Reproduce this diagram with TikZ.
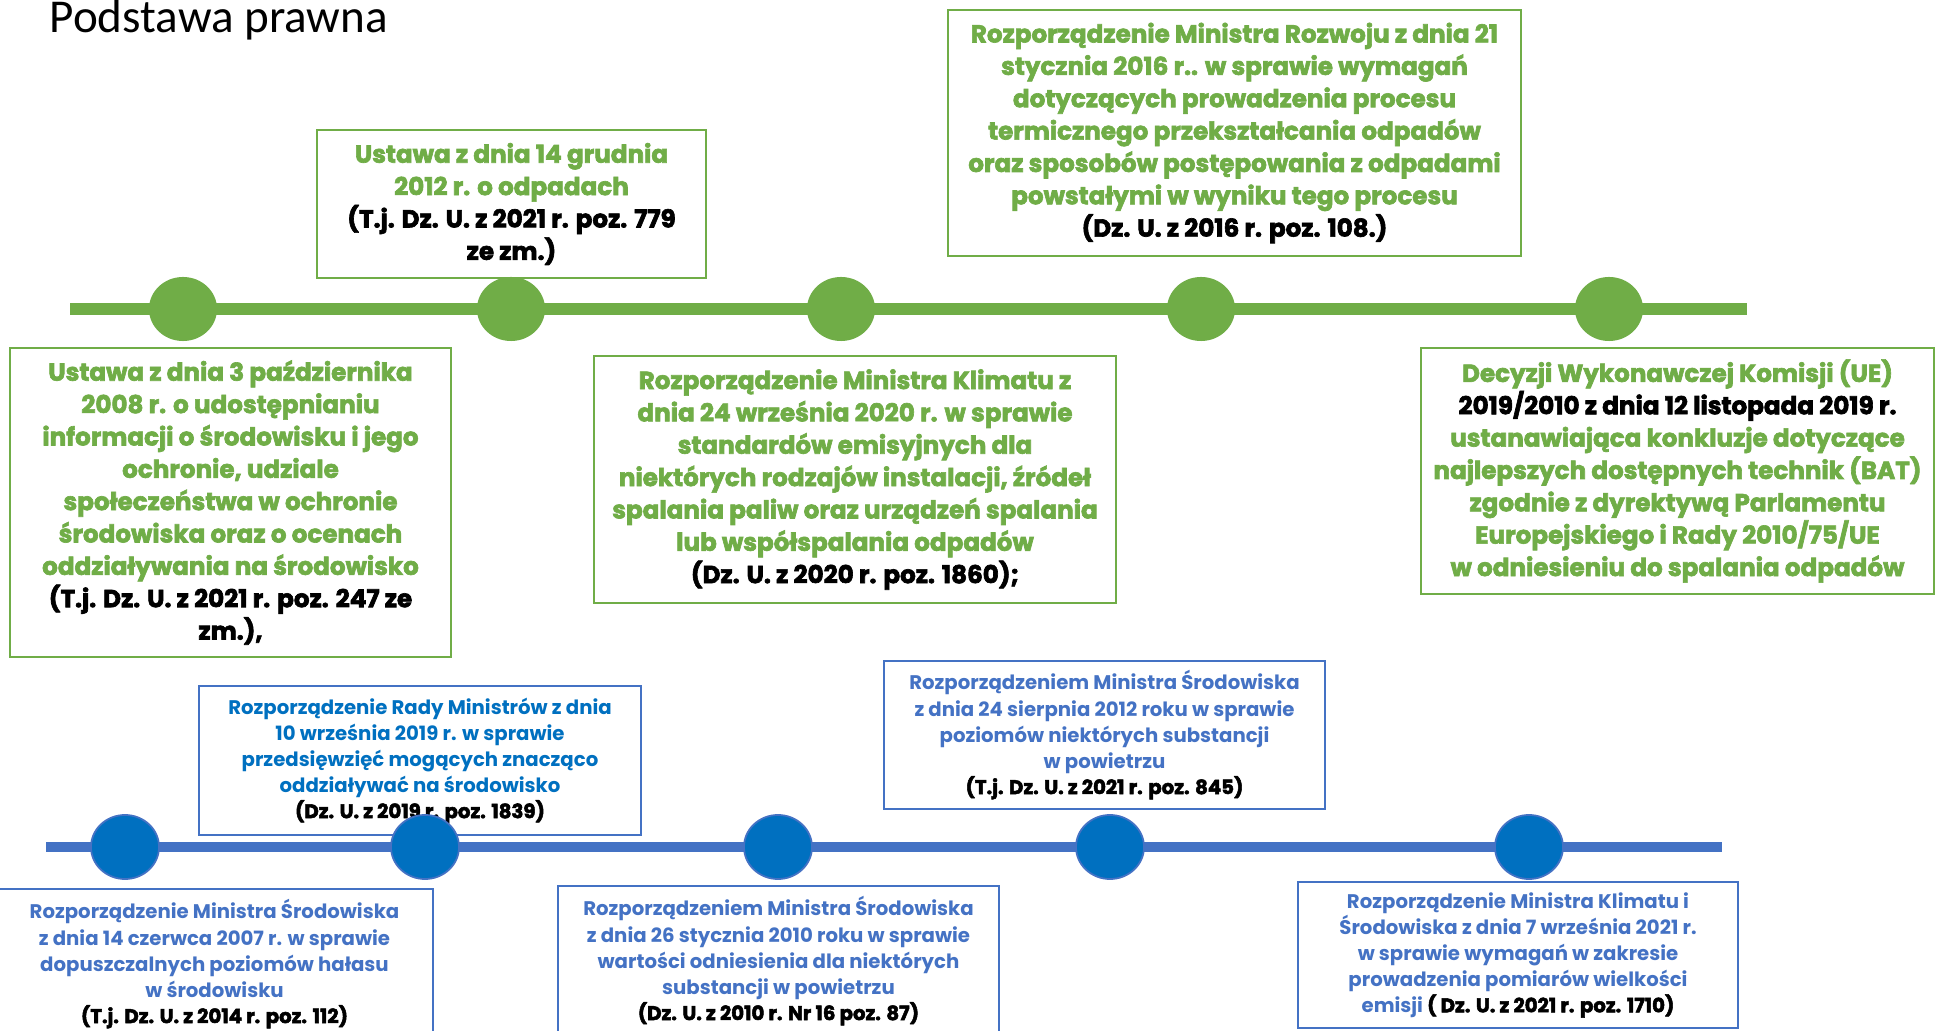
\documentclass[tikz,border=0pt]{standalone}
\usepackage{fontspec}
\setmainfont{Poppins}
\newfontfamily\ciezki{Poppins}[BoldFeatures={FakeBold=2.6}]
\newfontfamily\titlefont{Carlito}
\usetikzlibrary{shapes.geometric}
\definecolor{zielony}{HTML}{70AD47}
\definecolor{niebieski}{HTML}{4472C4}
\definecolor{ciemnoniebieski}{HTML}{0070C0}
\newcommand{\dzu}[1]{\textcolor{black}{#1}}
\newcommand{\dzub}[1]{\textcolor{black}{\ciezki\bfseries #1}}

\begin{document}
\begin{tikzpicture}[
  x=0.01cm, y=-0.01cm,
  box/.style={draw, align=center, inner sep=0pt, line width=0.6pt, fill=white},
  gbox/.style={box, draw=zielony, text=zielony, font=\fontsize{7.0}{9.2}\selectfont\ciezki\bfseries},
  bbox/.style={box, draw=niebieski, text=niebieski, font=\fontsize{5.6}{7.4}\selectfont\bfseries},
  gdot/.style={ellipse, fill=zielony, minimum width=6.8mm, minimum height=6.4mm, inner sep=0pt},
  bdot/.style={ellipse, fill=ciemnoniebieski, draw=niebieski, line width=0.5pt, minimum width=6.8mm, minimum height=6.4mm, inner sep=0pt},
  gaxis/.style={draw=zielony, line width=3.4pt},
  baxis/.style={draw=niebieski, line width=3.1pt}
]
\useasboundingbox (0,0) rectangle (1936,1031);
\node[font=\titlefont\fontsize{13.4}{16}\selectfont, anchor=base west, inner sep=0pt] (tytul) at (49,33) {Podstawa prawna};

% gorna os
\node[gbox, minimum width=3.89cm, minimum height=1.48cm] (ustawa2012) at (511.5,204) {Ustawa z dnia 14 grudnia\\2012 r. o odpadach\\\dzu{(T.j. Dz. U. z 2021 r. poz. 779}\\\dzu{ze zm.)}};
\node[gbox, minimum width=5.73cm, minimum height=2.46cm] (rozwoj2016) at (1234.5,133) {Rozporządzenie Ministra Rozwoju z dnia 21\\stycznia 2016 r.. w sprawie wymagań\\dotyczących prowadzenia procesu\\termicznego przekształcania odpadów\\oraz sposobów postępowania z odpadami\\powstałymi w wyniku tego procesu\\\dzu{(Dz. U. z 2016 r. poz. 108.)}};
\node[gbox, minimum width=4.41cm, minimum height=3.09cm] (ustawa2008) at (230.5,502.5) {Ustawa z dnia 3 października\\2008 r. o udostępnianiu\\informacji o środowisku i jego\\ochronie, udziale\\społeczeństwa w ochronie\\środowiska oraz o ocenach\\oddziaływania na środowisko\\\dzu{(T.j. Dz. U. z 2021 r. poz. 247 ze}\\\dzu{zm.),}};
\node[gbox, minimum width=5.22cm, minimum height=2.47cm] (klimat2020) at (855,479.5) {Rozporządzenie Ministra Klimatu z\\dnia 24 września 2020 r. w sprawie\\standardów emisyjnych dla\\niektórych rodzajów instalacji, źródeł\\spalania paliw oraz urządzeń spalania\\lub współspalania odpadów\\\dzu{(Dz. U. z 2020 r. poz. 1860);}};
\node[gbox, minimum width=5.13cm, minimum height=2.46cm] (bat2019) at (1677.5,471) {Decyzji Wykonawczej Komisji (UE)\\\dzu{2019/2010 z dnia 12 listopada 2019 r.}\\ustanawiająca konkluzje dotyczące\\najlepszych dostępnych technik (BAT)\\zgodnie z dyrektywą Parlamentu\\Europejskiego i Rady 2010/75/UE\\w odniesieniu do spalania odpadów};

\coordinate (gL) at (70,309);
\coordinate (gR) at (1747,309);
\draw[gaxis] (gL) -- (gR);
\foreach \x/\n in {183/g1, 511/g2, 841/g3, 1201/g4, 1609/g5}
  \node[gdot] (\n) at (\x,309) {};

% dolna os
\node[bbox, text=ciemnoniebieski, minimum width=4.42cm, minimum height=1.49cm] (rada2019) at (420,760.5) {Rozporządzenie Rady Ministrów z dnia\\10 września 2019 r. w sprawie\\przedsięwzięć mogących znacząco\\oddziaływać na środowisko\\\dzub{(Dz. U. z 2019 r. poz. 1839)}};
\node[bbox, minimum width=4.41cm, minimum height=1.48cm] (srod2012) at (1104.5,735) {Rozporządzeniem Ministra Środowiska\\z dnia 24 sierpnia 2012 roku w sprawie\\poziomów niektórych substancji\\w powietrzu\\\dzub{(T.j. Dz. U. z 2021 r. poz. 845)}};
\node[bbox, minimum width=4.37cm, minimum height=1.50cm] (srod2007) at (214.5,964) {Rozporządzenie Ministra Środowiska\\z dnia 14 czerwca 2007 r. w sprawie\\dopuszczalnych poziomów hałasu\\w środowisku\\\dzub{(T.j. Dz. U. z 2014 r. poz. 112)}};
\node[bbox, minimum width=4.41cm, minimum height=1.50cm] (srod2010) at (778.5,961) {Rozporządzeniem Ministra Środowiska\\z dnia 26 stycznia 2010 roku w sprawie\\wartości odniesienia dla niektórych\\substancji w powietrzu\\\dzub{(Dz. U. z 2010 r. Nr 16 poz. 87)}};
\node[bbox, minimum width=4.40cm, minimum height=1.46cm] (klimat2021) at (1518,955) {Rozporządzenie Ministra Klimatu i\\Środowiska z dnia 7 września 2021 r.\\w sprawie wymagań w zakresie\\prowadzenia pomiarów wielkości\\emisji \dzub{( Dz. U. z 2021 r. poz. 1710)}};

\coordinate (bL) at (46,847);
\coordinate (bR) at (1722,847);
\draw[baxis] (bL) -- (bR);
\foreach \x/\n in {125/b1, 425/b2, 778/b3, 1110/b4, 1529/b5}
  \node[bdot] (\n) at (\x,847) {};
\end{tikzpicture}
\end{document}
